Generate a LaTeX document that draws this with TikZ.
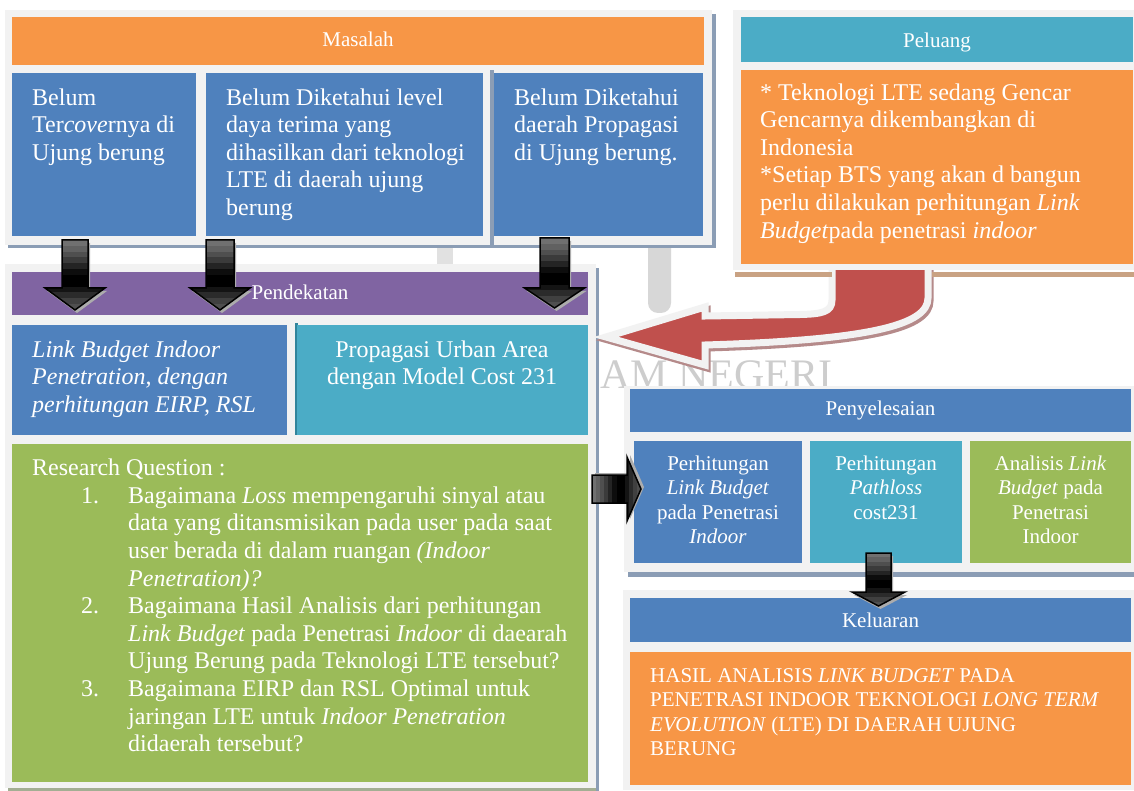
\documentclass[tikz,border=0pt]{standalone}
\usepackage{fontspec}
\setmainfont{Liberation Serif}
\usetikzlibrary{fit}
\definecolor{cOrange}{HTML}{F79646}
\definecolor{cBlue}{HTML}{4F81BD}
\definecolor{cCyan}{HTML}{4BACC6}
\definecolor{cPurple}{HTML}{8064A2}
\definecolor{cGreen}{HTML}{9BBB59}
\definecolor{cRed}{HTML}{C0504D}
\definecolor{cPanel}{HTML}{F2F2F2}
\definecolor{cShB}{HTML}{8B9DB5}
\definecolor{cShT}{HTML}{C9A283}
\definecolor{cShG}{HTML}{A3AE93}
\definecolor{cRedSh}{HTML}{B58A8A}
\definecolor{cWater}{HTML}{CDCDCD}
\definecolor{cTeal}{HTML}{31849B}
\newcommand{\bodyfont}{\fontsize{24}{27.6}\selectfont}
\newcommand{\headfont}{\fontsize{21}{24}\selectfont}
\newcommand{\smfont}{\fontsize{21}{24.5}\selectfont}
\newcommand{\mkbox}[4]{\node[inner sep=0pt,outer sep=0pt,fill=#2,fit={(#3) (#4)}] (#1) {};}
\tikzset{
  txtl/.style={inner sep=0pt,text=white,font=\bodyfont,align=left,anchor=north west},
  txtc/.style={inner sep=0pt,text=white,font=\bodyfont,align=center,anchor=north},
  smc/.style={inner sep=0pt,text=white,font=\smfont,align=center,anchor=north},
  sml/.style={inner sep=0pt,text=white,font=\smfont,align=left,anchor=north west},
  headtxt/.style={inner sep=0pt,text=white,font=\headfont,anchor=base},
  pics/blockarrow/.style args={#1/#2/#3/#4}{code={
    \begin{scope}[shift={(2,3)}]
      \fill[gray!65] (-#1,0) -- (#1,0) -- (#1,#2) -- (#3,#2) -- (0,{#2+#4}) -- (-#3,#2) -- (-#1,#2) -- cycle;
    \end{scope}
    \begin{scope}
      \clip (-#1,0) -- (#1,0) -- (#1,#2) -- (#3,#2) -- (0,{#2+#4}) -- (-#3,#2) -- (-#1,#2) -- cycle;
      \foreach \k [count=\i from 0] in {56,62,69,77,86,95,100,100,92,83,75,69} {
        \fill[black!\k] (-40,{\i*(#2+#4)/12}) rectangle (40,{(\i+1)*(#2+#4)/12+0.6});
      }
    \end{scope}
    \draw[black,line width=1.5pt]
      (-#1,0) -- (#1,0) -- (#1,#2) -- (#3,#2) -- (0,{#2+#4}) -- (-#3,#2) -- (-#1,#2) -- cycle;
  }}
}
\begin{document}
\begin{tikzpicture}[x=1pt,y=-1pt]
\useasboundingbox (0,0) rectangle (1134,791);
\fill[white] (0,0) rectangle (1134,791);
% faint watermark
\node[inner sep=0pt,anchor=base west,text=cWater,font=\fontsize{42}{48}\selectfont] (wm) at (537,388) {ISLAM NEGERI};
\fill[cWater!80,rounded corners=10pt] (648,236) rectangle (671,313);
\fill[cWater!60] (437,245) rectangle (453,265);
% ---------- Masalah ----------
\fill[cShB] (8,243) rectangle (716,248);
\fill[cShB] (712,14) rectangle (716,248);
\mkbox{pM}{cPanel}{5,10}{712,245}
\mkbox{mh}{cOrange}{12,17}{704,65}
\mkbox{m1}{cBlue}{12,73}{196,236}
\mkbox{m2}{cBlue}{206,73}{483,236}
\fill[cShB] (490,70) rectangle (494,246);
\mkbox{m3}{cBlue}{494,73}{703,236}
\node[headtxt] (tmh) at (358,47) {Masalah};
\node[txtl] (tm1) at (32,{105-19.32}) {\strut Belum\\Ter\textit{cove}rnya di\\Ujung berung};
\node[txtl] (tm2) at (226,{105-19.32}) {\strut Belum Diketahui level\\daya terima yang\\dihasilkan dari teknologi\\LTE di daerah ujung\\berung};
\node[txtl] (tm3) at (514,{105-19.32}) {\strut Belum Diketahui\\daerah Propagasi\\di Ujung berung.};
% ---------- Pendekatan ----------
\fill[cShG] (8,786) rectangle (599,791);
\fill[cShB] (596,268) rectangle (599,791);
\mkbox{pP}{cPanel}{5,264}{596,788}
\mkbox{ph}{cPurple}{12,272}{588,315}
\mkbox{p1}{cBlue}{12,325}{287,435}
\fill[cTeal] (295,323) rectangle (298,435);
\mkbox{p2}{cCyan}{297,325}{588,435}
\mkbox{p3}{cGreen}{12,444}{588,782}
\node[headtxt] (tph) at (300,300) {Pendekatan};
\node[txtl,font=\bodyfont\itshape] (tp1) at (32,{357-19.32}) {\strut Link Budget Indoor\\Penetration, dengan\\perhitungan EIRP, RSL};
\node[txtc] (tp2) at (442,{357-19.32}) {\strut Propagasi Urban Area\\dengan Model Cost 231};
\node[inner sep=0pt,text=white,font=\bodyfont,anchor=base west] (trq) at (32,475) {Research Question :};
\node[inner sep=0pt,text=white,font=\bodyfont,anchor=base west] (n1) at (81,503) {1.};
\node[inner sep=0pt,text=white,font=\bodyfont,anchor=base west] (n2) at (81,613.4) {2.};
\node[inner sep=0pt,text=white,font=\bodyfont,anchor=base west] (n3) at (81,696.2) {3.};
\node[txtl] (tq) at (128,{503-19.32}) {\strut Bagaimana \textit{Loss} mempengaruhi sinyal atau\\data yang ditansmisikan pada user pada saat\\user berada di dalam ruangan \textit{(Indoor}\\\textit{Penetration)?}\\Bagaimana Hasil Analisis dari perhitungan\\\textit{Link Budget} pada Penetrasi \textit{Indoor} di daearah\\Ujung Berung pada Teknologi LTE tersebut?\\Bagaimana EIRP dan RSL Optimal untuk\\jaringan LTE untuk \textit{Indoor Penetration}\\didaerah tersebut?};
% ---------- red curved arrow ----------
\begin{scope}[shift={(2,3)}]
\filldraw[fill=cRedSh,draw=cRedSh,line width=7pt,line join=miter]
  (832,262) -- (832,300) .. controls (832,312) and (822,314) .. (800,314.5) -- (705,316) -- (705,307) -- (606,337) -- (705,365) -- (705,345) .. controls (870,340) and (928,325) .. (928,298) -- (928,262) -- cycle;
\end{scope}
\filldraw[fill=cRed,draw=cPanel,line width=7pt,line join=miter]
  (832,262) -- (832,300) .. controls (832,312) and (822,314) .. (800,314.5) -- (705,316) -- (705,307) -- (606,337) -- (705,365) -- (705,345) .. controls (870,340) and (928,325) .. (928,298) -- (928,262) -- cycle;
% ---------- Peluang ----------
\fill[cShT] (735,272) rectangle (832,277);
\fill[cShT] (932,272) rectangle (1134,277);
\mkbox{pL}{cPanel}{733,10}{1134,270}
\mkbox{lh}{cCyan}{741,17}{1133,62}
\mkbox{lb}{cOrange}{741,70}{1133,264}
\node[headtxt] (tlh) at (937,48) {Peluang};
\node[txtl] (tlb) at (760,{100-19.32}) {\strut * Teknologi LTE sedang Gencar\\Gencarnya dikembangkan di\\Indonesia\\*Setiap BTS yang akan d bangun\\perlu dilakukan perhitungan \textit{Link}\\\textit{Budget}pada penetrasi \textit{indoor}};
% ---------- Penyelesaian ----------
\fill[cShB] (628,572) rectangle (1134,577);
\mkbox{sP}{cPanel}{624,386}{1134,572}
\mkbox{sh}{cBlue}{630,389}{1131,432}
\mkbox{s1}{cBlue}{634,441}{802,563}
\mkbox{s2}{cCyan}{810,441}{962,563}
\mkbox{s3}{cGreen}{970,441}{1131,563}
\node[headtxt] (tsh) at (880.5,415) {Penyelesaian};
\node[smc] (ts1) at (718,{470-17.15}) {\strut Perhitungan\\\textit{Link Budget}\\pada Penetrasi\\\textit{Indoor}};
\node[smc] (ts2) at (886,{470-17.15}) {\strut Perhitungan\\\textit{Pathloss}\\cost231};
\node[smc] (ts3) at (1050.5,{470-17.15}) {\strut Analisis \textit{Link}\\\textit{Budget} pada\\Penetrasi\\Indoor};
% ---------- Keluaran ----------
\mkbox{kP}{cPanel}{623,590}{1134,790}
\mkbox{kh}{cBlue}{630,598}{1131,642}
\mkbox{kb}{cOrange}{630,652}{1131,785}
\node[headtxt] (tkh) at (880.5,627) {Keluaran};
\node[sml] (tkb) at (650,{682-17.15}) {\strut HASIL ANALISIS \textit{LINK BUDGET} PADA\\PENETRASI INDOOR TEKNOLOGI \textit{LONG TERM}\\\textit{EVOLUTION} (LTE) DI DAERAH UJUNG\\BERUNG};
% ---------- block arrows ----------
\pic at (75,240) {blockarrow=13/48/30/22};
\pic at (220,240) {blockarrow=14/48/30/22};
\pic at (554.5,238) {blockarrow=14.5/50/30/20};
\pic[rotate=90] at (592,489) {blockarrow=14/35/32/14};
\pic at (878.5,553) {blockarrow=12.5/39/26.5/14};
\end{tikzpicture}
\end{document}
